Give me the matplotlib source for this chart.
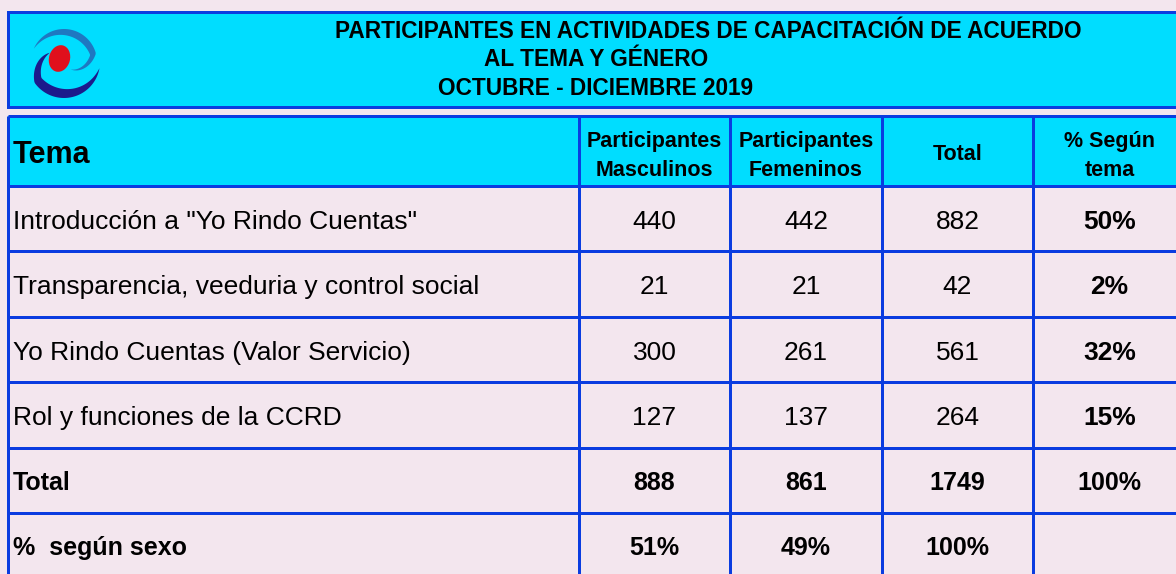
import numpy as np
import matplotlib
matplotlib.use("Agg")
import matplotlib.pyplot as plt
from matplotlib.patches import Rectangle, Ellipse, Polygon

# ---------------- datos de la tabla ----------------
titulo = ["PARTICIPANTES EN ACTIVIDADES DE CAPACITACIÓN DE ACUERDO",
          "AL TEMA Y GÉNERO",
          "OCTUBRE - DICIEMBRE 2019"]
encabezados = [["Participantes", "Masculinos"],
               ["Participantes", "Femeninos"],
               ["Total"],
               ["% Según", "tema"]]
temas = ['Introducción a "Yo Rindo Cuentas"',
         "Transparencia, veeduria y control social",
         "Yo Rindo Cuentas (Valor Servicio)",
         "Rol y funciones de la CCRD"]
masculinos = [440, 21, 300, 127]
femeninos = [442, 21, 261, 137]
totales = [882, 42, 561, 264]
pct_tema = ["50%", "2%", "32%", "15%"]
fila_total = ["888", "861", "1749", "100%"]
fila_sexo = ["51%", "49%", "100%", ""]

# ---------------- estilo ----------------
AZUL = "#0a3ce0"
CIAN = "#00ddff"
ROSA = "#f3e6ee"
LW = 3 * 72 / 100  # 3 px
plt.rcParams["font.family"] = ["Liberation Sans", "DejaVu Sans"]

W, H = 1176, 574
fig = plt.figure(figsize=(W / 100, H / 100), dpi=100, facecolor=ROSA)
ax = fig.add_axes([0, 0, 1, 1])
ax.set_xlim(0, W)
ax.set_ylim(H, 0)
ax.axis("off")
ax.set_facecolor(ROSA)

# bordes de columnas y filas (en pixeles)
cols = [8, 579, 730, 882, 1033, 1186]
filas = [186, 251, 317, 382, 448, 513, 580]

# bloque del titulo
ax.add_patch(Rectangle((cols[0], 12), cols[-1] - cols[0], 95,
                       facecolor=CIAN, edgecolor=AZUL, lw=LW))
# logo
def brazo(t0, t1, radio, ancho, color, c=(64, 62)):
    t = np.linspace(t0, t1, 80)
    u = np.linspace(0, 1, 80)
    r = radio(t)
    w = ancho * np.sin(np.pi * u) ** 0.9
    tr = np.radians(t)
    ext = np.c_[c[0] + r * np.cos(tr), c[1] - r * np.sin(tr)]
    inn = np.c_[c[0] + (r - w) * np.cos(tr), c[1] - (r - w) * np.sin(tr)]
    ax.add_patch(Polygon(np.vstack([ext, inn[::-1]]), closed=True,
                         facecolor=color, edgecolor="none"))

brazo(156, -48, lambda t: np.where(t >= 15, 33, 10 + 23 * (t + 48) / 63), 7, "#1f78c1")
brazo(147, 350, lambda t: np.where(t <= 215, 17 + 19 * (t - 147) / 68, 36), 9.5, "#1c1a8c")
ax.add_patch(Ellipse((59.5, 58.5), 21, 27, angle=15, facecolor="#e0101c", edgecolor="none"))

tit_x = [708, 596, 596]
tit_y = [38, 66.5, 95]
for txt, x, y in zip(titulo, tit_x, tit_y):
    ax.text(x, y, txt, ha="center", va="baseline", fontsize=16.3, fontweight="bold")

# encabezado
ax.add_patch(Rectangle((cols[0], 116), cols[-1] - cols[0], filas[0] - 116,
                       facecolor=CIAN, edgecolor="none"))
ax.text(13, 163, "Tema", ha="left", va="baseline", fontsize=22, fontweight="bold")
for i, lineas in enumerate(encabezados):
    xc = (cols[i + 1] + cols[i + 2]) / 2
    ys = [146.5, 176] if len(lineas) == 2 else [160.5]
    for txt, y in zip(lineas, ys):
        ax.text(xc, y, txt, ha="center", va="baseline", fontsize=15.5, fontweight="bold")

# lineas de la cuadricula
for y in [116] + filas:
    ax.plot([cols[0], cols[-1]], [y, y], color=AZUL, lw=LW, solid_capstyle="butt")
for x in cols:
    ax.plot([x, x], [116, filas[-1]], color=AZUL, lw=LW, solid_capstyle="butt")

centros = [(cols[i] + cols[i + 1]) / 2 for i in range(1, 5)]

# filas de temas
for k, tema in enumerate(temas):
    yb = filas[k] + 43
    ax.text(13, yb, tema, ha="left", va="baseline", fontsize=19)
    vals = [masculinos[k], femeninos[k], totales[k]]
    for xc, v in zip(centros[:3], vals):
        ax.text(xc, yb, str(v), ha="center", va="baseline", fontsize=19)
    ax.text(centros[3], yb, pct_tema[k], ha="center", va="baseline",
            fontsize=19, fontweight="bold")

# fila total
yb = filas[4] + 42
ax.text(13, yb, "Total", ha="left", va="baseline", fontsize=18, fontweight="bold")
for xc, v in zip(centros, fila_total):
    ax.text(xc, yb, v, ha="center", va="baseline", fontsize=18, fontweight="bold")

# fila % segun sexo
yb = filas[5] + 42
ax.text(13, yb, "%  según sexo", ha="left", va="baseline", fontsize=18, fontweight="bold")
for xc, v in zip(centros, fila_sexo):
    ax.text(xc, yb, v, ha="center", va="baseline", fontsize=18, fontweight="bold")

fig.savefig("out.png", dpi=100, facecolor=ROSA)
